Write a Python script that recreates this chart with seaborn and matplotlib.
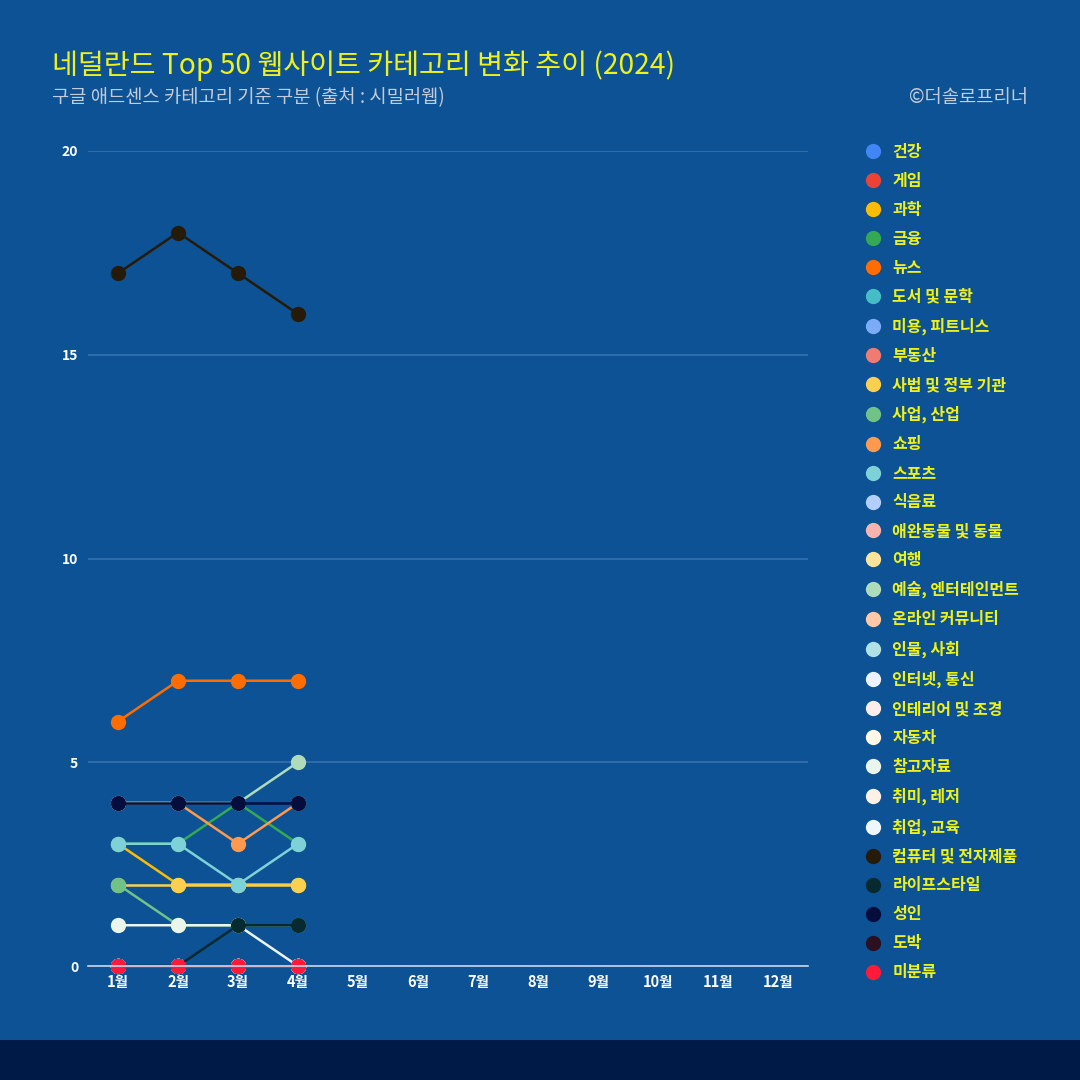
import matplotlib
matplotlib.use("Agg")
import matplotlib.pyplot as plt
from matplotlib.lines import Line2D
from matplotlib.patches import Rectangle
import numpy as np
import pandas as pd
import seaborn as sns

# ── Data ───────────────────────────────────────────────────────────────────
MONTHS = ["1월", "2월", "3월", "4월", "5월", "6월",
          "7월", "8월", "9월", "10월", "11월", "12월"]

CATEGORIES = [
    "건강", "게임", "과학", "금융", "뉴스", "도서 및 문학", "미용, 피트니스",
    "부동산", "사법 및 정부 기관", "사업, 산업", "쇼핑", "스포츠", "식음료",
    "애완동물 및 동물", "여행", "예술, 엔터테인먼트", "온라인 커뮤니티",
    "인물, 사회", "인터넷, 통신", "인테리어 및 조경", "자동차", "참고자료",
    "취미, 레저", "취업, 교육", "컴퓨터 및 전자제품", "라이프스타일", "성인",
    "도박", "미분류",
]
COLORS = [
    "#4285F4", "#EA4335", "#FBBC04", "#34A853", "#FF6D01", "#46BDC6", "#7BAAF7",
    "#F07B72", "#FCD04F", "#71C287", "#FF994D", "#7ED1D7", "#B3CEFB",
    "#F7B4AE", "#FDE49B", "#AEDCBA", "#FFC8A6",
    "#B1E0E5", "#ECF3FE", "#FDECEC", "#FFF8E6", "#EAF6EC",
    "#FFF0E8", "#EEF8FA", "#261A08", "#062A2E", "#050D3D",
    "#2A1020", "#FF1A3A",
]

# values for Jan–Apr (rest of the year not yet published)
science    = [3, 2, 2, 2]
finance    = [3, 3, 4, 3]
news       = [6, 7, 7, 7]
government = [2, 2, 2, 2]
business   = [2, 1, 1, 1]
shopping   = [4, 4, 3, 4]
sports     = [3, 3, 2, 3]
arts       = [4, 4, 4, 5]
reference  = [1, 1, 1, 0]
computers  = [17, 18, 17, 16]
lifestyle  = [0, 0, 1, 1]
adult      = [4, 4, 4, 4]
zero       = [0, 0, 0, 0]

series = {
    "과학": science, "금융": finance, "뉴스": news,
    "사법 및 정부 기관": government, "사업, 산업": business,
    "쇼핑": shopping, "스포츠": sports, "예술, 엔터테인먼트": arts,
    "참고자료": reference, "컴퓨터 및 전자제품": computers,
    "라이프스타일": lifestyle, "성인": adult,
}

rows = []
for cat in CATEGORIES:
    vals = series.get(cat, zero)
    for i, v in enumerate(vals):
        rows.append({"month": i, "category": cat, "count": v})
df = pd.DataFrame(rows)

# ── Style ──────────────────────────────────────────────────────────────────
BG      = "#0C5294"
BAND    = "#001A48"
YELLOW  = "#EEF21A"
GRID    = "#3572AE"
GREY    = "#C3CCDA"

sns.set_theme(style="dark")
plt.rcParams["font.family"] = ["Noto Sans CJK KR", "DejaVu Sans"]

fig = plt.figure(figsize=(10.8, 10.8), dpi=100, facecolor=BG)
fig.patches.append(Rectangle((0, 0), 1, 40 / 1080, transform=fig.transFigure,
                             facecolor=BAND, edgecolor="none", zorder=0))

ax = fig.add_axes([88 / 1080, 114 / 1080, 720 / 1080, 815 / 1080])
ax.set_facecolor(BG)

palette = dict(zip(CATEGORIES, COLORS))
sns.lineplot(data=df, x="month", y="count", hue="category",
             hue_order=CATEGORIES, palette=palette, estimator=None,
             marker="o", markersize=11, markeredgewidth=0,
             linewidth=1.8, legend=False, ax=ax)

ax.set_xlim(-0.5, len(MONTHS) - 0.5)
ax.set_ylim(0, 20)
ax.set_xticks(range(len(MONTHS)))
ax.set_xticklabels(MONTHS)
ax.set_yticks([0, 5, 10, 15, 20])
ax.set_xlabel("")
ax.set_ylabel("")
for line in ax.lines:
    line.set_clip_on(False)

ax.grid(axis="y", color=GRID, linewidth=1.2)
ax.grid(axis="x", visible=False)
for side in ["top", "right", "left"]:
    ax.spines[side].set_visible(False)
ax.spines["bottom"].set_color("#C9D6E8")
ax.spines["bottom"].set_linewidth(1.2)
ax.tick_params(axis="both", colors="white", length=0)
ax.tick_params(axis="y", pad=7, labelsize=10)
ax.tick_params(axis="x", pad=6, labelsize=10.5)
for lab in ax.get_xticklabels() + ax.get_yticklabels():
    lab.set_fontweight("bold")

# ── Titles ─────────────────────────────────────────────────────────────────
fig.text(52 / 1080, 1 - 66 / 1080, "네덜란드 Top 50 웹사이트 카테고리 변화 추이 (2024)",
         color=YELLOW, fontsize=20.3, va="center", ha="left")
fig.text(52 / 1080, 1 - 98 / 1080, "구글 애드센스 카테고리 기준 구분 (출처 : 시밀러웹)",
         color=GREY, fontsize=13.5, va="center", ha="left")
fig.text(1028 / 1080, 1 - 98 / 1080, "©더솔로프리너",
         color=GREY, fontsize=13.5, va="center", ha="right")

# ── Legend ─────────────────────────────────────────────────────────────────
handles = [Line2D([], [], linestyle="none", marker="o", markersize=11,
                  markeredgewidth=0, color=c) for c in COLORS]
leg = fig.legend(handles, CATEGORIES, loc="upper left",
                 bbox_to_anchor=(866 / 1080, 1 - 144 / 1080),
                 frameon=False, borderpad=0, borderaxespad=0,
                 handlelength=0.9, handletextpad=0.75, labelspacing=0.81,
                 prop={"size": 11.5, "weight": "bold"})
for t in leg.get_texts():
    t.set_color(YELLOW)

fig.savefig("out.png", dpi=100, facecolor=BG)
